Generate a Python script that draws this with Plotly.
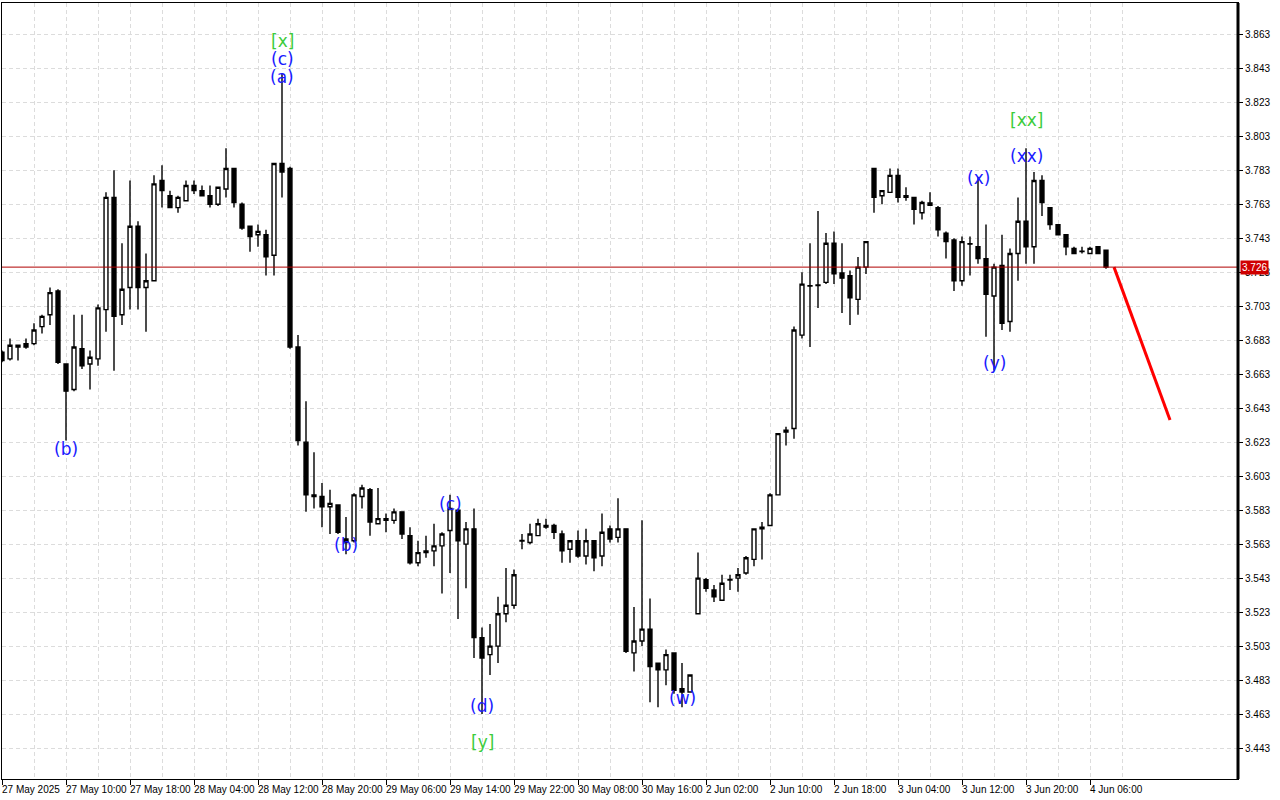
import plotly.graph_objects as go

# ---------------- data (H1 bars, index = bar number) ----------------
opens = [3.676,3.672,3.680,3.681,3.681,3.691,3.698,3.712,3.669,3.654,3.678,3.669,3.672,3.701,3.767,3.698,3.714,3.750,3.714,3.718,
         3.777,3.768,3.761,3.765,3.774,3.771,3.768,3.763,3.772,3.784,3.763,3.750,3.745,3.745,3.733,3.787,3.784,3.679,3.623,3.591,
         3.591,3.585,3.586,3.566,3.565,3.591,3.595,3.575,3.578,3.577,3.582,3.568,3.552,3.559,3.559,3.562,3.571,3.583,3.563,3.572,
         3.508,3.498,3.503,3.522,3.527,3.5652,3.564,3.568,3.574,3.574,3.569,3.560,3.565,3.556,3.565,3.556,3.572,3.567,3.572,3.499,
         3.506,3.513,3.493,3.489,3.499,3.478,3.476,3.522,3.542,3.536,3.530,3.5422,3.543,3.546,3.554,3.572,3.574,3.592,3.629,3.631,
         3.686,3.7149,3.7152,3.717,3.740,3.7225,3.721,3.707,3.726,3.784,3.768,3.770,3.780,3.768,3.767,3.758,3.7637,3.761,3.746,3.742,
         3.718,3.7397,3.738,3.731,3.709,3.727,3.694,3.734,3.753,3.738,3.777,3.761,3.751,3.745,3.737,3.7354,3.734,3.738,3.736]
highs = [3.677,3.684,3.680,3.684,3.693,3.698,3.714,3.713,3.669,3.698,3.698,3.677,3.704,3.770,3.783,3.740,3.777,3.753,3.734,3.780,
         3.786,3.771,3.768,3.777,3.777,3.774,3.774,3.773,3.796,3.784,3.764,3.750,3.751,3.748,3.787,3.840,3.785,3.686,3.647,3.617,
         3.599,3.595,3.586,3.579,3.593,3.598,3.596,3.596,3.581,3.584,3.582,3.573,3.565,3.568,3.575,3.570,3.592,3.584,3.576,3.584,
         3.514,3.516,3.532,3.549,3.548,3.569,3.575,3.578,3.578,3.575,3.571,3.565,3.571,3.572,3.565,3.581,3.574,3.590,3.572,3.526,
         3.577,3.531,3.493,3.501,3.499,3.493,3.486,3.558,3.543,3.539,3.545,3.545,3.549,3.556,3.572,3.576,3.593,3.628,3.632,3.691,
         3.723,3.740,3.759,3.746,3.747,3.740,3.724,3.732,3.741,3.784,3.771,3.784,3.784,3.773,3.767,3.765,3.770,3.762,3.747,3.743,
         3.744,3.744,3.779,3.751,3.728,3.745,3.737,3.767,3.796,3.782,3.780,3.761,3.751,3.745,3.738,3.738,3.738,3.738,3.736]
lows = [3.670,3.671,3.671,3.678,3.680,3.687,3.692,3.669,3.624,3.653,3.666,3.654,3.668,3.688,3.665,3.692,3.701,3.701,3.688,3.718,
        3.761,3.761,3.758,3.765,3.769,3.768,3.761,3.762,3.767,3.761,3.748,3.735,3.738,3.721,3.721,3.767,3.678,3.621,3.582,3.584,
        3.573,3.569,3.569,3.557,3.564,3.584,3.568,3.575,3.570,3.575,3.566,3.551,3.550,3.555,3.550,3.534,3.546,3.519,3.537,3.496,
        3.463,3.486,3.493,3.517,3.525,3.560,3.563,3.568,3.572,3.566,3.552,3.552,3.555,3.551,3.547,3.550,3.564,3.564,3.499,3.488,
        3.503,3.470,3.467,3.480,3.475,3.467,3.476,3.522,3.535,3.529,3.530,3.536,3.535,3.545,3.550,3.554,3.574,3.592,3.621,3.625,
        3.684,3.679,3.702,3.716,3.716,3.699,3.692,3.698,3.722,3.758,3.763,3.770,3.764,3.765,3.751,3.754,3.762,3.744,3.731,3.712,
        3.715,3.721,3.728,3.685,3.665,3.689,3.688,3.718,3.728,3.728,3.756,3.748,3.745,3.733,3.734,3.734,3.734,3.734,3.725]
closes = [3.671,3.680,3.679,3.679,3.689,3.697,3.711,3.670,3.653,3.679,3.668,3.673,3.702,3.767,3.697,3.713,3.750,3.714,3.718,3.775,
          3.771,3.761,3.767,3.774,3.771,3.768,3.763,3.773,3.784,3.764,3.749,3.744,3.747,3.732,3.787,3.782,3.679,3.624,3.592,3.592,
          3.585,3.587,3.570,3.564,3.592,3.596,3.576,3.578,3.577,3.582,3.569,3.552,3.558,3.558,3.562,3.569,3.584,3.565,3.572,3.508,
          3.496,3.503,3.522,3.527,3.545,3.5648,3.569,3.575,3.573,3.570,3.559,3.565,3.556,3.565,3.555,3.570,3.566,3.572,3.500,3.506,
          3.513,3.491,3.489,3.498,3.477,3.476,3.486,3.543,3.537,3.532,3.540,3.5419,3.545,3.555,3.572,3.573,3.592,3.628,3.630,3.689,
          3.716,3.7151,3.7155,3.740,3.722,3.7195,3.708,3.726,3.741,3.767,3.771,3.780,3.767,3.767,3.760,3.764,3.7623,3.748,3.741,3.718,
          3.741,3.7395,3.731,3.710,3.726,3.693,3.734,3.753,3.738,3.777,3.764,3.751,3.745,3.738,3.734,3.7352,3.737,3.734,3.726]

tick_bars = [0, 8, 16, 24, 32, 40, 48, 56, 64, 72, 80, 88, 96, 104, 112, 120, 128, 136]
tick_labels = ["27 May 2025", "27 May 10:00", "27 May 18:00", "28 May 04:00", "28 May 12:00", "28 May 20:00",
               "29 May 06:00", "29 May 14:00", "29 May 22:00", "30 May 08:00", "30 May 16:00", "2 Jun 02:00",
               "2 Jun 10:00", "2 Jun 18:00", "3 Jun 04:00", "3 Jun 12:00", "3 Jun 20:00", "4 Jun 06:00"]
price_ticks = [round(3.443 + 0.02 * k, 3) for k in range(22)]
current_price = 3.726

wave_labels = ["[x]", "(c)", "(a)", "(b)", "(b)", "(c)", "(d)", "[y]", "(w)", "(x)", "(y)", "(xx)", "[xx]"]
wave_bars = [35, 35, 35, 8, 43, 56, 60, 60, 85, 122, 124, 128, 128]
wave_prices = [3.859, 3.8485, 3.838, 3.6187, 3.5623, 3.5869, 3.4677, 3.4466, 3.4724, 3.7786, 3.6698, 3.7915, 3.8126]
wave_colors = ["green", "blue", "blue", "blue", "blue", "blue", "blue", "green", "blue", "blue", "blue", "blue", "green"]

projection_bars = [139, 146]
projection_prices = [3.726, 3.636]

# ---------------- figure ----------------
bars = list(range(len(opens)))
GRID = "#dcdcdc"
fig = go.Figure()
fig.add_trace(go.Candlestick(
    x=bars, open=opens, high=highs, low=lows, close=closes,
    increasing=dict(line=dict(color="black", width=1.4), fillcolor="white"),
    decreasing=dict(line=dict(color="black", width=1.4), fillcolor="black"),
    whiskerwidth=0, hoverinfo="skip", showlegend=False,
))
fig.add_trace(go.Scatter(
    x=projection_bars, y=projection_prices, mode="lines",
    line=dict(color="#ff0000", width=3), hoverinfo="skip", showlegend=False,
))

colmap = {"green": "#3ccc3c", "blue": "#1a1aff"}
for t, b, p, c in zip(wave_labels, wave_bars, wave_prices, wave_colors):
    fig.add_annotation(x=b, y=p, xref="x", yref="y", text=t, showarrow=False,
                       font=dict(family="DejaVu Sans", size=17, color=colmap[c]),
                       xanchor="center", yanchor="middle")

for b, lab in zip(tick_bars, tick_labels):
    fig.add_annotation(x=b, y=0, xref="x", yref="paper", text=lab, showarrow=False,
                       font=dict(family="Liberation Sans", size=10, color="black"),
                       xanchor="left", yanchor="top", xshift=-2, yshift=-3)

# current price line and label
fig.add_shape(type="line", xref="paper", yref="y", x0=0, x1=1, y0=current_price, y1=current_price,
              line=dict(color="#b00000", width=1))
fig.add_annotation(x=1, y=current_price, xref="paper", yref="y", text=f"{current_price:.3f}",
                   showarrow=False, xanchor="left", yanchor="middle", xshift=2,
                   font=dict(family="Liberation Sans", size=10, color="white"),
                   bgcolor="#d00000", borderpad=1)
# thick right border
fig.add_shape(type="line", xref="paper", yref="paper", x0=1, x1=1, y0=0, y1=1,
              line=dict(color="black", width=3))

fig.update_layout(
    width=1280, height=800,
    margin=dict(l=2, r=42, t=3, b=21),
    paper_bgcolor="white", plot_bgcolor="white",
    showlegend=False,
    xaxis=dict(
        range=[0, 154.5], rangeslider=dict(visible=False),
        tickmode="array", tickvals=tick_bars, showticklabels=False,
        ticks="outside", ticklen=5, tickcolor="black",
        showgrid=True, gridcolor=GRID, griddash="4px,3px", gridwidth=1,
        minor=dict(tickmode="array", tickvals=[b + 4 for b in tick_bars], showgrid=True,
                   gridcolor=GRID, griddash="4px,3px", ticks=""),
        showline=True, linecolor="black", linewidth=1, mirror=True, zeroline=False,
    ),
    yaxis=dict(
        side="right", range=[3.4248, 3.8814],
        tickmode="array", tickvals=price_ticks, ticktext=[f"{v:.3f}" for v in price_ticks],
        ticks="outside", ticklen=4, tickcolor="black",
        tickfont=dict(family="Liberation Sans", size=10, color="black"),
        showgrid=True, gridcolor=GRID, griddash="4px,3px", gridwidth=1,
        showline=True, linecolor="black", linewidth=1, mirror=True, zeroline=False,
    ),
)

fig.write_html("out.html", config={"displayModeBar": False},
               post_script="document.body.style.margin='0';document.body.style.overflow='hidden';")
